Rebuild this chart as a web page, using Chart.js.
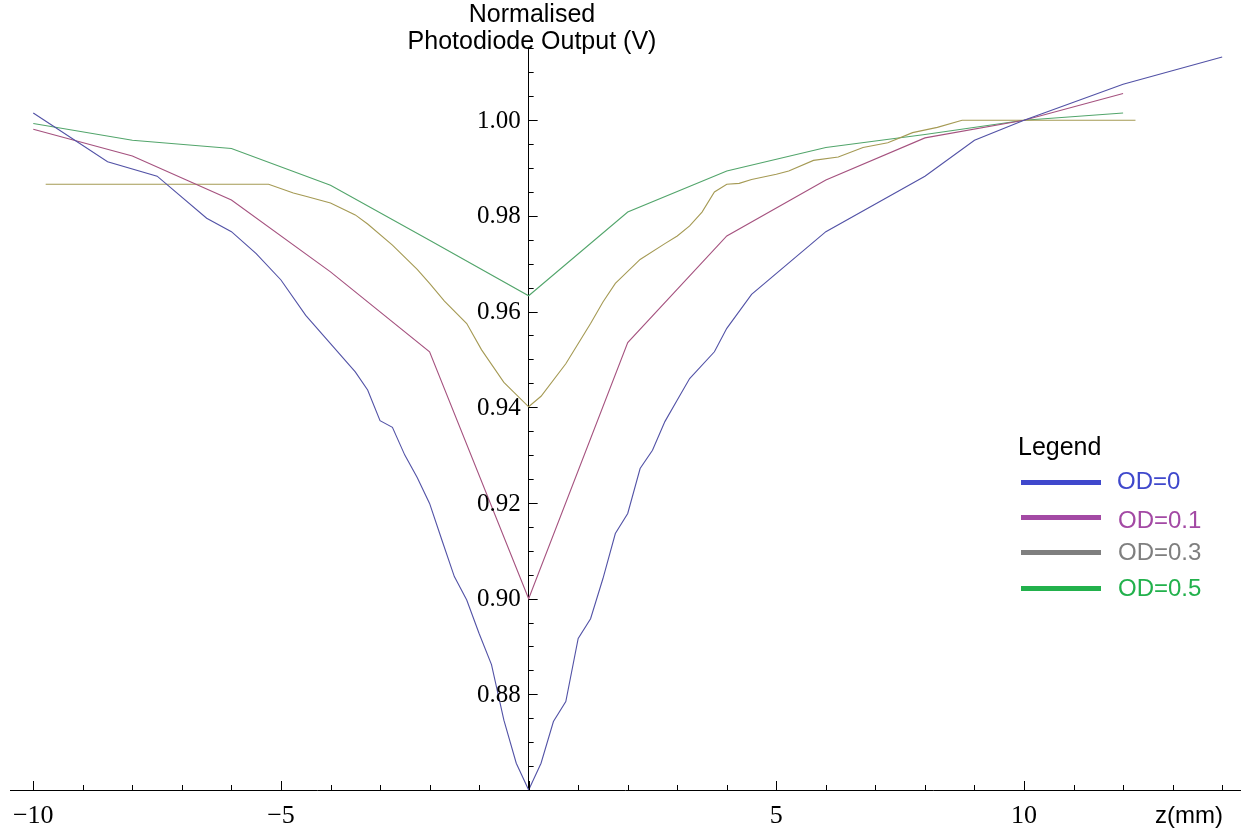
<!DOCTYPE html>
<html>
<head>
<meta charset="utf-8">
<title>Normalised Photodiode Output</title>
<script src="https://cdn.jsdelivr.net/npm/chart.js@4.4.0/dist/chart.umd.min.js"></script>
<style>
  body { margin: 0; background: #fff; }
  #wrap { position: relative; width: 1248px; height: 832px; overflow: hidden; }
  .txt { position: absolute; font-family: 'Liberation Sans', Arial, sans-serif; line-height: 1; white-space: nowrap; }
  #title { left: 382px; top: 0; width: 300px; text-align: center; font-size: 25px; line-height: 27px; }
  #xlabel { left: 1155px; top: 803px; font-size: 24px; }
  #legendTitle { left: 1018px; top: 434px; font-size: 25px; }
  .swatch { position: absolute; height: 5px; }
</style>
</head>
<body>
<div id="wrap">
  <canvas id="plot" width="1248" height="832"></canvas>
  <div class="txt" id="title">Normalised<br>Photodiode Output (V)</div>
  <div class="txt" id="xlabel">z(mm)</div>
  <div class="txt" id="legendTitle">Legend</div>
  <div id="legend"></div>
</div>
<script>
// z position (mm) and normalised output for each filter
const od0X = [-10, -8.5, -7.5, -6.5, -6, -5.5, -5, -4.5, -4, -3.5, -3.25, -3, -2.75, -2.5, -2.25, -2, -1.75, -1.5, -1.25, -1, -0.75, -0.5, -0.25, 0,
  0.25, 0.5, 0.75, 1, 1.25, 1.5, 1.75, 2, 2.25, 2.5, 2.75, 3, 3.25, 3.75, 4, 4.5, 6, 8, 9, 10, 12, 14];
const od0Y = [1.0015, 0.9913, 0.9883, 0.9795, 0.9767, 0.9721, 0.9666, 0.9592, 0.9533, 0.9474, 0.9436, 0.9372, 0.9358, 0.9300, 0.9253, 0.9199, 0.9122, 0.9046, 0.8997, 0.8927, 0.8862, 0.8746, 0.8656, 0.8600,
  0.8656, 0.8743, 0.8785, 0.8917, 0.8958, 0.9042, 0.9136, 0.9178, 0.9272, 0.9310, 0.9370, 0.9415, 0.9460, 0.9516, 0.9565, 0.9636, 0.9767, 0.9883, 0.9958, 1.0000, 1.0075, 1.0132];

const od01X = [-10, -8, -6, -4, -2, 0, 2, 4, 6, 8, 10, 12];
const od01Y = [0.9981, 0.9925, 0.9833, 0.9683, 0.9516, 0.9000, 0.9535, 0.9758, 0.9875, 0.9963, 1.0000, 1.0056];

const od03X = [-9.75, -5.25, -4.75, -4.5, -4, -3.5, -3.25, -2.75, -2.25, -2, -1.7, -1.25, -0.95, -0.5, 0,
  0.25, 0.75, 1.25, 1.5, 1.75, 2.25, 2.75, 3, 3.25, 3.5, 3.75, 4, 4.25, 4.5, 5, 5.25, 5.75, 6.25, 6.75, 7.25, 7.75, 8.25, 8.75, 12.25];
const od03Y = [0.9866, 0.9866, 0.9848, 0.9841, 0.9827, 0.9802, 0.9783, 0.9739, 0.9688, 0.9659, 0.9622, 0.9575, 0.9520, 0.9452, 0.9401,
  0.9423, 0.9491, 0.9575, 0.9620, 0.9659, 0.9709, 0.9742, 0.9758, 0.9779, 0.9808, 0.9850, 0.9866, 0.9868, 0.9876, 0.9887, 0.9894, 0.9916, 0.9923, 0.9943, 0.9953, 0.9974, 0.9985, 1.0000, 1.0000];

const od05X = [-10, -8, -6, -4, -2, 0, 2, 4, 6, 8, 10, 12];
const od05Y = [0.9993, 0.9958, 0.9941, 0.9864, 0.9749, 0.9633, 0.9808, 0.9894, 0.9943, 0.9970, 1.0000, 1.0015];

const seriesLabels = ['OD=0', 'OD=0.1', 'OD=0.3', 'OD=0.5'];
const lineColors = ['#5252a6', '#a5527f', '#a59a54', '#52a56b'];
const legendColors = ['#3f48cc', '#a349a4', '#7f7f7f', '#22b14c'];

const xTickValues = [-10, -5, 5, 10];
const yTickValues = [0.88, 0.90, 0.92, 0.94, 0.96, 0.98, 1.00];

function toPoints(xs, ys) {
  return xs.map((x, i) => ({ x: x, y: ys[i] }));
}

const allSeries = [[od0X, od0Y], [od01X, od01Y], [od03X, od03Y], [od05X, od05Y]];

// Mathematica-style inward tick marks, plus y labels left of the centred axis
const tickMarks = {
  id: 'tickMarks',
  afterDraw(chart) {
    const ctx = chart.ctx;
    const xs = chart.scales.x;
    const ys = chart.scales.y;
    const x0 = xs.getPixelForValue(0);
    const y0 = ys.getPixelForValue(0.86);
    ctx.save();
    ctx.strokeStyle = '#000';
    ctx.lineWidth = 1;
    ctx.beginPath();
    for (let k = 0; k <= 31; k++) {
      const v = 0.86 + k * 0.005;
      const py = Math.round(ys.getPixelForValue(v)) + 0.5;
      const len = (k % 4 === 0) ? 9 : 5;
      ctx.moveTo(x0, py);
      ctx.lineTo(x0 + len, py);
    }
    for (let v = -10; v <= 14; v++) {
      const px = Math.round(xs.getPixelForValue(v)) + 0.5;
      const len = (v % 5 === 0) ? 9 : 5;
      ctx.moveTo(px, y0);
      ctx.lineTo(px, y0 - len);
    }
    ctx.stroke();

    ctx.fillStyle = '#000';
    ctx.font = "25px 'Liberation Serif', 'Times New Roman', serif";
    ctx.textAlign = 'right';
    ctx.textBaseline = 'middle';
    yTickValues.forEach(v => {
      ctx.fillText(v.toFixed(2), x0 - 8, ys.getPixelForValue(v) + 1);
    });
    ctx.restore();
  }
};

new Chart(document.getElementById('plot'), {
  type: 'scatter',
  data: {
    datasets: allSeries.map((s, i) => ({
      label: seriesLabels[i],
      data: toPoints(s[0], s[1]),
      showLine: true,
      borderColor: lineColors[i],
      backgroundColor: lineColors[i],
      borderWidth: 1.1,
      pointRadius: 0,
      tension: 0
    }))
  },
  options: {
    responsive: false,
    animation: false,
    layout: { padding: { left: 10, right: 8, top: 47, bottom: 42 } },
    plugins: {
      legend: { display: false },
      tooltip: { enabled: false }
    },
    scales: {
      x: {
        type: 'linear',
        min: -10.47,
        max: 14.36,
        position: { y: 0.86 },
        afterBuildTicks: (scale) => { scale.ticks = xTickValues.map(v => ({ value: v })); },
        grid: { display: false, drawTicks: false },
        border: { display: true, color: '#000', width: 1 },
        ticks: {
          color: '#000',
          padding: 11,
          maxRotation: 0,
          autoSkip: false,
          font: { family: "'Liberation Serif', 'Times New Roman', serif", size: 26 },
          callback: (v) => v < 0 ? '\u2212' + Math.abs(v) : String(v)
        }
      },
      y: {
        type: 'linear',
        min: 0.86,
        max: 1.0153,
        position: { x: 0 },
        afterBuildTicks: (scale) => { scale.ticks = yTickValues.map(v => ({ value: v })); },
        grid: { display: false, drawTicks: false },
        border: { display: true, color: '#000', width: 1 },
        ticks: { display: false }
      }
    }
  },
  plugins: [tickMarks]
});

// legend drawn beside the plot
const legendTops = [469, 508, 540, 576];
const legendLineY = [480, 515, 550, 586];
const legend = document.getElementById('legend');
seriesLabels.forEach((name, i) => {
  const sw = document.createElement('div');
  sw.className = 'swatch';
  sw.style.left = '1021px';
  sw.style.width = '80px';
  sw.style.top = legendLineY[i] + 'px';
  sw.style.background = legendColors[i];
  legend.appendChild(sw);

  const t = document.createElement('div');
  t.className = 'txt';
  t.textContent = name;
  t.style.left = (1117 + (i > 0 ? 1 : 0)) + 'px';
  t.style.top = legendTops[i] + 'px';
  t.style.fontSize = '24px';
  t.style.color = legendColors[i];
  legend.appendChild(t);
});
</script>
</body>
</html>
